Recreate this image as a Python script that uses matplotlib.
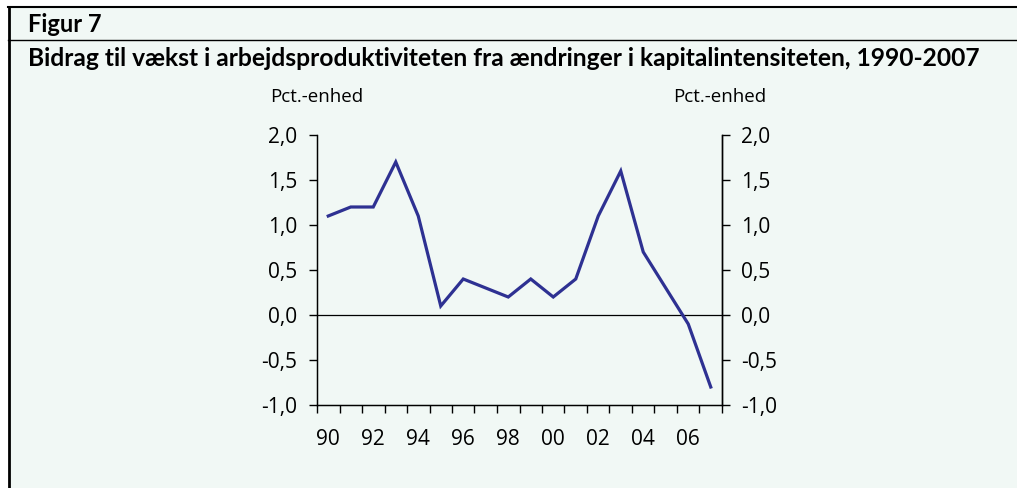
import matplotlib
matplotlib.use("Agg")
import matplotlib.pyplot as plt
from matplotlib.lines import Line2D
from matplotlib.patches import Rectangle
import numpy as np

years = list(range(1990, 2008))
values = [1.1, 1.2, 1.2, 1.7, 1.1, 0.1, 0.4, 0.3, 0.2, 0.4, 0.2, 0.4, 1.1, 1.6, 0.7, 0.3, -0.1, -0.8]
xlabels = ["90", "92", "94", "96", "98", "00", "02", "04", "06"]
yticks = [-1.0, -0.5, 0.0, 0.5, 1.0, 1.5, 2.0]
title = "Bidrag til vækst i arbejdsproduktiviteten fra ændringer i kapitalintensiteten, 1990-2007"
fig_label = "Figur 7"
unit = "Pct.-enhed"

W, H = 1017, 488
fig = plt.figure(figsize=(W / 100, H / 100), dpi=100)
fig.patch.set_facecolor("white")
bg = "#f1f8f5"
fig.patches.append(Rectangle((9 / W, 0), 1, 1 - 8 / H, transform=fig.transFigure,
                             facecolor=bg, edgecolor="none", zorder=-5))
# frame lines
fig.add_artist(Line2D([8 / W, 1], [1 - 7 / H] * 2, color="black", lw=1.5))
fig.add_artist(Line2D([8.5 / W] * 2, [0, 1 - 7 / H], color="black", lw=2))
fig.add_artist(Line2D([8 / W, 1], [1 - 40 / H] * 2, color="black", lw=1.0))

tfont = ["Lato", "DejaVu Sans"]
fig.text(28 / W, 1 - 24 / H, fig_label, fontsize=17, fontweight="bold", family=tfont,
         va="center", ha="left")
t = fig.text(28 / W, 1 - 59 / H, title, fontsize=15, fontweight="bold", family=tfont,
             va="center", ha="left")
# fit title width to ~957 px
fig.canvas.draw()
bb = t.get_window_extent()
t.set_fontsize(15 * 957 / bb.width)

lfont = ["Open Sans", "DejaVu Sans"]
fs = 15
ax = fig.add_axes([317 / W, (H - 405) / H, (722 - 317) / W, (405 - 135) / H])
ax.set_facecolor("none")
x = np.arange(len(years))
ax.plot(x, values, color="#2e3192", lw=2.3, solid_joinstyle="miter", zorder=3)
ax.axhline(0, color="black", lw=0.9, zorder=2)
ax.set_xlim(-0.5, len(years) - 0.5)
ax.set_ylim(-1.0, 2.0)
ax.set_yticks(yticks)
ax.set_yticklabels([f"{v:.1f}".replace(".", ",") for v in yticks], family=lfont, fontsize=fs)
ax.set_xticks(np.arange(len(years) + 1) - 0.5)
ax.set_xticklabels([])
ax.set_xticks(np.arange(0, len(years), 2), minor=True)
ax.set_xticklabels(xlabels, minor=True, family=lfont, fontsize=fs)
ax.tick_params(axis="x", which="major", length=6, width=1, direction="out")
ax.tick_params(axis="x", which="minor", length=0, pad=17)
ax.tick_params(axis="y", length=6, width=1, direction="out", pad=8)
ax.spines["top"].set_visible(False)
for s in ["left", "right", "bottom"]:
    ax.spines[s].set_linewidth(1)
ax2 = ax.twinx()
ax2.set_ylim(-1.0, 2.0)
ax2.set_yticks(yticks)
ax2.set_yticklabels([f"{v:.1f}".replace(".", ",") for v in yticks], family=lfont, fontsize=fs)
ax2.tick_params(axis="y", length=6, width=1, direction="out", pad=8)
ax2.spines["top"].set_visible(False)
ax2.spines["right"].set_linewidth(1)

fig.text(317 / W, 1 - 97 / H, unit, family=lfont, fontsize=13.5, ha="center", va="center")
fig.text(720 / W, 1 - 97 / H, unit, family=lfont, fontsize=13.5, ha="center", va="center")

fig.savefig("out.png", dpi=100, facecolor="white")
